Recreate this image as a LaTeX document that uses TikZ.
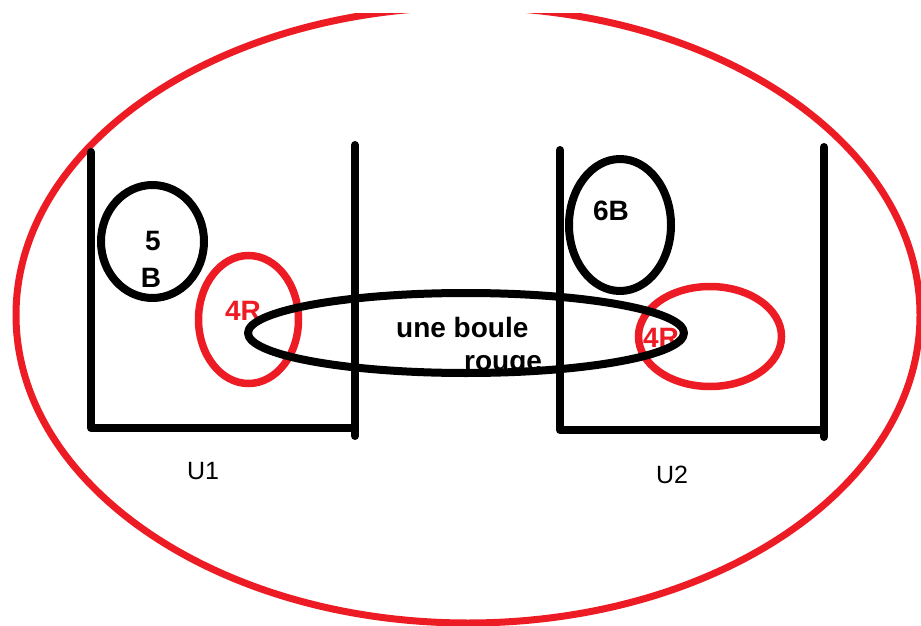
\documentclass[tikz,border=0pt]{standalone}
\usepackage{fontspec}
\setmainfont{Liberation Sans}
\usetikzlibrary{shapes.geometric}
\definecolor{paintred}{HTML}{ED1C24}
\tikzset{
  ink/.style={draw=black, line width=8pt, line cap=round, line join=round},
  redink/.style={draw=paintred, line width=7.5pt},
  blob/.style={ellipse, inner sep=0pt, minimum width=#1},
  boldlabel/.style={font=\fontsize{28}{33}\selectfont\bfseries, inner sep=0pt, anchor=base},
  urnlabel/.style={font=\fontsize{25}{30}\selectfont, inner sep=0pt, anchor=base},
}
\begin{document}
\begin{tikzpicture}[x=1pt, y=-1pt]
  \useasboundingbox (0,0) rectangle (921,626);
  \fill[white] (0,0) rectangle (921,626);

  % outer universe, cut off along the top strip
  \begin{scope}
    \clip (0,14) rectangle (921,626);
    \draw[draw=paintred, line width=7pt] (468,315) ellipse [x radius=452, y radius=308];
  \end{scope}

  % urn U1
  \coordinate (u1tl) at (91,152);
  \coordinate (u1bl) at (91,428);
  \coordinate (u1br) at (355,428);
  \coordinate (u1tr) at (355,145);
  \coordinate (u1end) at (355,436);
  \draw[ink] (u1tl) -- (u1bl) -- (u1br);
  \draw[ink] (u1tr) -- (u1end);

  % urn U2
  \coordinate (u2tl) at (560,150);
  \coordinate (u2bl) at (560,430);
  \coordinate (u2br) at (824,430);
  \coordinate (u2tr) at (824,147);
  \coordinate (u2end) at (824,437);
  \draw[ink] (u2tl) -- (u2bl) -- (u2br);
  \draw[ink] (u2tr) -- (u2end);

  % groups of balls
  \node[ink, blob=103pt, minimum height=113pt] (white5) at (152.5,241.5) {};
  \node[ink, blob=102pt, minimum height=132pt] (white6) at (620,225) {};
  \node[redink, blob=100pt, minimum height=128pt] (red4a) at (248.5,319.5) {};
  \node[redink, blob=143pt, minimum height=100pt] (red4b) at (710,336.5) {};

  % ball counts
  \node[boldlabel] (t5) at (153,250) {5};
  \node[boldlabel] (tB) at (151,287) {B};
  \node[boldlabel, text=paintred] (t4a) at (243,320) {4R};
  \node[boldlabel] (t6) at (611,220) {6B};
  \node[boldlabel, text=paintred] (t4b) at (661,347) {4R};

  % the transferred ball
  \node[ink, blob=436pt, minimum height=80pt] (moved) at (466,333) {};
  \node[boldlabel, anchor=base west] (line1) at (396,337) {une boule};
  \node[boldlabel, anchor=base west] (line2) at (464,370) {rouge};

  % urn names
  \node[urnlabel] (nameU1) at (203,479) {U1};
  \node[urnlabel] (nameU2) at (672,483) {U2};
\end{tikzpicture}
\end{document}
